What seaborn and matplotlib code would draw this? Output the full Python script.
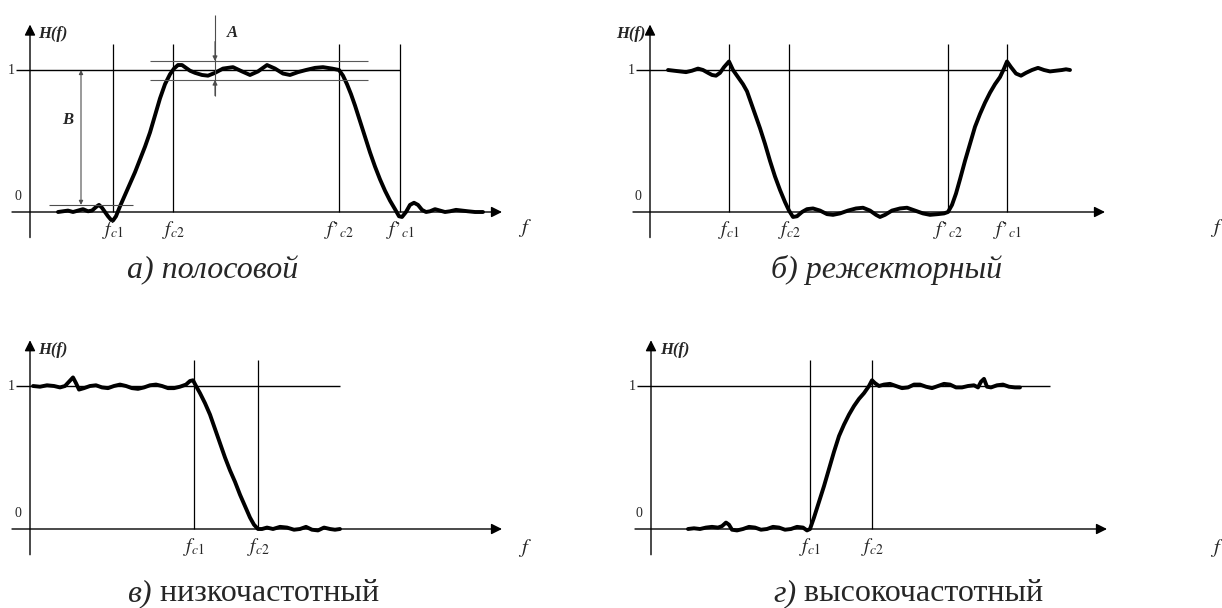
import numpy as np
import matplotlib
matplotlib.use("Agg")
import matplotlib.pyplot as plt
import seaborn as sns

sns.set_style("white")
plt.rcParams["font.family"] = ["Liberation Serif", "DejaVu Serif"]
plt.rcParams["mathtext.fontset"] = "stix"

# --- данные: частота (усл. ед.) и H(f) ---
# а) полосовой
a_f = [2.8, 3.3, 3.8, 4.3, 4.8, 5.3, 5.8, 6.2, 6.6, 6.9, 7.2, 7.5, 7.8, 8.1, 8.3, 8.6, 9.0,
       9.5, 10.0, 10.5, 11.0, 11.5, 12.0, 12.5, 13.0, 13.5, 14.0, 14.4, 14.8, 15.2, 15.6,
       16.0, 16.5, 17.2, 17.8, 18.5, 19.3, 20.3, 21.2, 22.0, 22.8, 23.7, 24.5, 25.3, 26.0,
       26.8, 27.6, 28.5, 29.3, 30.2, 30.9, 31.3, 31.7, 32.1, 32.5, 33.0, 33.5, 34.0, 34.5,
       35.0, 35.5, 36.0, 36.5, 36.9, 37.2, 37.6, 38.0, 38.4, 38.8, 39.2, 39.6, 40.0, 40.5,
       41.0, 41.5, 42.0, 42.6, 43.2, 43.8, 44.5, 45.3]
a_h = [0.0, 0.005, 0.01, 0.0, 0.01, 0.02, 0.005, 0.01, 0.035, 0.05, 0.03, 0.0, -0.03, -0.055,
       -0.06, -0.03, 0.04, 0.12, 0.2, 0.28, 0.37, 0.46, 0.56, 0.68, 0.8, 0.9, 0.97, 1.01,
       1.035, 1.035, 1.015, 0.995, 0.98, 0.965, 0.96, 0.98, 1.01, 1.02, 0.99, 0.965, 0.99,
       1.035, 1.01, 0.975, 0.965, 0.985, 1.0, 1.015, 1.02, 1.01, 1.0, 0.96, 0.9, 0.83, 0.75,
       0.64, 0.53, 0.42, 0.32, 0.23, 0.15, 0.08, 0.02, -0.03, -0.035, 0.0, 0.05, 0.065, 0.05,
       0.015, 0.0, 0.005, 0.02, 0.01, 0.0, 0.005, 0.015, 0.01, 0.005, 0.0, 0.0]
a_cut = [8.3, 14.3, 30.9, 37.0]
a_cut_labels = ["$f_{\\mathit{c1}}$", "$f_{\\mathit{c2}}$",
                "$f\u2019_{\\mathit{c2}}$", "$f\u2019_{\\mathit{c1}}$"]

# б) режекторный
b_f = [1.8, 2.4, 3.0, 3.6, 4.2, 4.8, 5.3, 5.8, 6.2, 6.6, 7.0, 7.4, 7.9, 8.3, 8.8, 9.3, 9.7,
       10.0, 10.5, 11.0, 11.5, 12.0, 12.5, 13.0, 13.5, 13.9, 14.3, 14.7, 15.2, 15.7, 16.3,
       17.0, 17.7, 18.3, 19.0, 19.8, 20.6, 21.3, 22.0, 22.6, 23.0, 23.5, 24.2, 25.0, 25.7,
       26.5, 27.3, 28.0, 28.8, 29.4, 29.8, 30.2, 30.6, 31.0, 31.5, 32.0, 32.5, 33.0, 33.5,
       34.0, 34.5, 35.0, 35.4, 35.7, 36.1, 36.6, 37.1, 37.6, 38.2, 38.8, 39.4, 40.0, 40.6,
       41.2, 41.6, 42.0]
b_h = [1.0, 0.995, 0.99, 0.985, 0.995, 1.01, 1.0, 0.98, 0.965, 0.96, 0.98, 1.02, 1.06, 1.0,
       0.95, 0.9, 0.85, 0.79, 0.69, 0.59, 0.48, 0.36, 0.25, 0.155, 0.07, 0.01, -0.035, -0.03,
       0.0, 0.02, 0.025, 0.01, -0.015, -0.02, -0.01, 0.01, 0.025, 0.03, 0.01, -0.02, -0.035,
       -0.02, 0.01, 0.025, 0.03, 0.01, -0.01, -0.02, -0.015, -0.01, 0.0, 0.05, 0.13, 0.23,
       0.36, 0.48, 0.6, 0.69, 0.77, 0.84, 0.9, 0.95, 1.01, 1.06, 1.02, 0.975, 0.96, 0.98, 1.0,
       1.015, 1.0, 0.99, 0.995, 1.0, 1.005, 1.0]
b_cut = [7.9, 13.9, 29.8, 35.7]
b_cut_labels = a_cut_labels

# в) низкочастотный
c_f = [0.3, 1.0, 1.7, 2.4, 3.0, 3.5, 3.9, 4.3, 4.6, 4.9, 5.4, 6.0, 6.6, 7.2, 7.8, 8.4, 9.0,
       9.6, 10.2, 10.8, 11.4, 12.0, 12.6, 13.2, 13.8, 14.4, 15.0, 15.6, 16.0, 16.3, 16.6,
       17.0, 17.5, 18.0, 18.5, 19.0, 19.5, 20.0, 20.5, 21.0, 21.5, 22.0, 22.4, 22.8, 23.2,
       23.7, 24.3, 25.0, 25.7, 26.4, 27.0, 27.6, 28.2, 28.8, 29.4, 30.0, 30.5, 31.0]
c_h = [1.0, 0.995, 1.005, 1.0, 0.99, 1.0, 1.03, 1.06, 1.02, 0.975, 0.985, 1.0, 1.005, 0.99,
       0.985, 1.0, 1.01, 1.0, 0.985, 0.98, 0.99, 1.005, 1.01, 1.0, 0.985, 0.985, 0.995, 1.01,
       1.035, 1.04, 1.0, 0.95, 0.88, 0.8, 0.7, 0.6, 0.5, 0.41, 0.33, 0.24, 0.16, 0.08, 0.03,
       0.0, 0.0, 0.01, 0.0, 0.015, 0.01, -0.005, 0.0, 0.015, -0.005, -0.01, 0.01, 0.0, -0.005,
       0.0]
c_cut = [16.4, 22.8]
c_cut_labels = ["$f_{\\mathit{c1}}$", "$f_{\\mathit{c2}}$"]

# г) высокочастотный
d_f = [3.7, 4.3, 4.9, 5.5, 6.1, 6.7, 7.1, 7.5, 7.8, 8.1, 8.6, 9.2, 9.8, 10.4, 11.0, 11.6,
       12.2, 12.8, 13.4, 14.0, 14.6, 15.2, 15.6, 15.9, 16.3, 16.8, 17.3, 17.8, 18.3, 18.8,
       19.3, 19.8, 20.3, 20.8, 21.3, 21.8, 22.1, 22.4, 22.8, 23.3, 23.9, 24.5, 25.1, 25.7,
       26.3, 26.9, 27.5, 28.1, 28.7, 29.3, 29.9, 30.5, 31.1, 31.7, 32.3, 32.7, 33.0, 33.3,
       33.6, 34.0, 34.6, 35.2, 35.8, 36.4, 36.9]
d_h = [0.0, 0.005, 0.0, 0.01, 0.015, 0.01, 0.02, 0.045, 0.03, -0.005, -0.01, 0.0, 0.015,
       0.01, -0.005, 0.0, 0.015, 0.01, -0.005, 0.0, 0.015, 0.01, -0.01, 0.0, 0.08, 0.19, 0.3,
       0.42, 0.54, 0.65, 0.73, 0.8, 0.86, 0.91, 0.95, 1.0, 1.04, 1.02, 1.0, 1.01, 1.015, 1.0,
       0.985, 0.99, 1.01, 1.01, 0.995, 0.985, 1.0, 1.015, 1.01, 0.99, 0.99, 1.0, 1.005, 0.99,
       1.03, 1.05, 0.995, 0.99, 1.005, 1.01, 0.995, 0.99, 0.99]
d_cut = [15.9, 22.1]
d_cut_labels = c_cut_labels

W, H = 1222, 608
fig = plt.figure(figsize=(W / 100, H / 100), dpi=100)


def make_panel(left, top, right, bottom, ox, oy0, oy1):
    # оси в пикселях рисунка: ox - положение оси H, oy0/oy1 - уровни 0 и 1
    ax = fig.add_axes([left / W, 1 - bottom / H, (right - left) / W, (bottom - top) / H])
    s = oy0 - oy1
    ax.set_xlim((left - ox) / 10, (right - ox) / 10)
    ax.set_ylim((oy0 - bottom) / s, (oy0 - top) / s)
    ax.axis("off")
    return ax


def draw(ax, f, h, cut, cut_labels, one_end, x_start, x_end, h_left, h_label_right=False):
    arr = dict(arrowstyle="-|>", color="k", lw=1.0, mutation_scale=16, shrinkA=0, shrinkB=0)
    ax.annotate("", xy=(x_end, 0), xytext=(x_start, 0), arrowprops=arr)
    ax.annotate("", xy=(0, 1.32), xytext=(0, -0.18), arrowprops=arr)
    ax.hlines(1, -1.4, one_end, color="k", lw=1.0)
    ax.vlines(cut, 0, 1.18, color="k", lw=0.9)
    sns.lineplot(x=f, y=h, sort=False, estimator=None, color="k", lw=2.8, ax=ax,
                 solid_joinstyle="round", solid_capstyle="round")
    for c, lab in zip(cut, cut_labels):
        ax.text(c, -0.05, lab, ha="center", va="top", fontsize=14)
    ax.text(-1.5, 1.0, "1", ha="right", va="center", fontsize=10)
    ax.text(-0.9, 0.06, "0", ha="right", va="bottom", fontsize=10)
    ax.text(h_left, 1.25, "H(f)", ha="right" if h_label_right else "left", va="center",
            fontsize=12, fontweight="bold", style="italic")


ax_a = make_panel(0, 0, 611, 304, 30, 212, 70)
draw(ax_a, a_f, a_h, a_cut, a_cut_labels, 37.0, -1.8, 47.2, 0.8)
ax_a.text(48.8, -0.11, "$f$", fontsize=15, ha="left", va="center")
# допуски A и B
ax_a.hlines([1.063, 0.93], 12.0, 33.8, color="0.35", lw=0.8)
ax_a.vlines(18.5, 0.82, 1.39, color="0.3", lw=0.8)
small = dict(arrowstyle="-|>", color="0.3", lw=0.8, mutation_scale=7, shrinkA=0, shrinkB=0)
ax_a.annotate("", xy=(18.5, 1.063), xytext=(18.5, 1.2), arrowprops=small)
ax_a.annotate("", xy=(18.5, 0.93), xytext=(18.5, 0.82), arrowprops=small)
ax_a.text(19.7, 1.26, "A", fontsize=12, style="italic", fontweight="bold", va="center")
ax_a.hlines(0.05, 1.9, 10.3, color="0.3", lw=0.8)
ax_a.annotate("", xy=(5.1, 1.0), xytext=(5.1, 0.05),
              arrowprops=dict(arrowstyle="<|-|>", color="0.3", lw=0.8, mutation_scale=6,
                              shrinkA=0, shrinkB=0))
ax_a.text(3.8, 0.65, "B", fontsize=12, style="italic", fontweight="bold", ha="center", va="center")
ax_a.text(18.3, -0.41, "а) полосовой", fontsize=23, style="italic", ha="center", va="center")

ax_b = make_panel(611, 0, 1222, 304, 650, 212, 70)
draw(ax_b, b_f, b_h, b_cut, b_cut_labels, 35.7, -1.7, 45.5, -0.5, h_label_right=True)
ax_b.text(56.0, -0.11, "$f$", fontsize=15, ha="left", va="center")
ax_b.text(23.7, -0.41, "б) режекторный", fontsize=23, style="italic", ha="center", va="center")

ax_c = make_panel(0, 304, 611, 608, 30, 529, 386)
draw(ax_c, c_f, c_h, c_cut, c_cut_labels, 31.0, -1.8, 47.2, 0.8)
ax_c.text(48.8, -0.13, "$f$", fontsize=15, ha="left", va="center")
t = ax_c.text(9.7, -0.45, "в)", fontsize=23, style="italic", ha="left", va="center")
ax_c.annotate(" низкочастотный", xy=(1, 0), xycoords=t, fontsize=23, ha="left", va="bottom")

ax_d = make_panel(611, 304, 1222, 608, 651, 529, 386)
draw(ax_d, d_f, d_h, d_cut, d_cut_labels, 39.9, -1.6, 45.6, 0.9)
ax_d.text(55.9, -0.13, "$f$", fontsize=15, ha="left", va="center")
t = ax_d.text(12.2, -0.45, "г)", fontsize=23, style="italic", ha="left", va="center")
ax_d.annotate(" высокочастотный", xy=(1, 0), xycoords=t, fontsize=23, ha="left", va="bottom")

fig.savefig("out.png", dpi=100)
